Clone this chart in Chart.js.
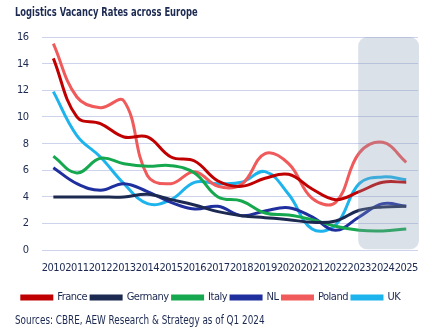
<!DOCTYPE html>
<html lang='en'>
<head>
  <meta charset='UTF-8'>
  <title>Logistics Vacancy Rates across Europe</title>
  <script src="https://cdn.jsdelivr.net/npm/chart.js@4.4.1/dist/chart.umd.min.js"></script>
  <style>
    html, body {
      margin: 0;
      padding: 0;
      background: #fff;
    }

    #wrap {
      position: relative;
      width: 430px;
      height: 332px;
      font-family: 'DejaVu Sans Condensed', 'DejaVu Sans', sans-serif;
      color: #1c2951;
    }

    #chart {
      position: absolute;
      left: 0;
      top: 0;
      display: block;
      width: 430px;
      height: 332px;
    }

    .caption {
      position: absolute;
      left: 15px;
      white-space: nowrap;
      line-height: 1;
      transform-origin: left center;
    }

    #title {
      top: 7px;
      font-size: 11.5px;
      font-weight: bold;
      transform: scaleX(0.81);
    }

    #source {
      top: 314px;
      font-size: 12px;
      transform: scaleX(0.82);
    }
  </style>
</head>
<body>
<div id="wrap">
  <canvas id="chart" width="430" height="332"></canvas>
  <div class="caption" id="title">Logistics Vacancy Rates across Europe</div>
  <div class="caption" id="source">Sources: CBRE, AEW Research &amp; Strategy as of Q1 2024</div>
</div>
<script>
  const years = ['2010', '2011', '2012', '2013', '2014', '2015', '2016', '2017',
    '2018', '2019', '2020', '2021', '2022', '2023', '2024', '2025'];
  const france = [14.4, 10.0, 9.5, 8.5, 8.5, 7.0, 6.7, 5.2, 4.8, 5.4, 5.7, 4.6, 3.8, 4.4, 5.1, 5.1];
  const germany = [4.0, 4.0, 4.0, 4.0, 4.2, 3.8, 3.4, 2.9, 2.6, 2.45, 2.3, 2.1, 2.2, 3.0, 3.25, 3.3];
  const italy = [7.05, 5.8, 6.9, 6.5, 6.3, 6.35, 5.8, 4.0, 3.7, 2.8, 2.65, 2.3, 1.8, 1.5, 1.45, 1.6];
  const nl = [6.2, 5.0, 4.5, 5.0, 4.4, 3.6, 3.1, 3.3, 2.6, 2.95, 3.2, 2.5, 1.5, 2.5, 3.5, 3.3];
  const poland = [15.5, 11.5, 10.7, 11.2, 5.6, 5.0, 5.9, 4.8, 4.95, 7.25, 6.5, 3.9, 3.6, 7.3, 8.1, 6.6];
  const uk = [11.9, 8.6, 7.0, 5.0, 3.5, 3.8, 5.1, 5.0, 5.1, 5.9, 4.2, 1.6, 1.9, 5.0, 5.5, 5.3];
  const forecastFrom = '2023';

  const navy = '#1c2951';

  const series = [
    ['France', france, '#c00000'],
    ['Germany', germany, '#1c2951'],
    ['Italy', italy, '#16a84e'],
    ['NL', nl, '#1f2f9e'],
    ['Poland', poland, '#f05a5a'],
    ['UK', uk, '#1db3ec']
  ];

  // tighter letters for ticks and legend (narrow face is not available)
  const tightText = {
    id: 'tightText',
    beforeUpdate(chart) {
      chart.ctx.letterSpacing = '-0.5px';
    },
    beforeDraw(chart) {
      chart.ctx.letterSpacing = '-0.5px';
    }
  };

  // grey rounded box over the forecast years, laid on top so lines show faded
  const forecastBox = {
    id: 'forecastBox',
    afterDatasetsDraw(chart) {
      const {ctx, chartArea, scales} = chart;
      const x0 = scales.x.getPixelForValue(years.indexOf(forecastFrom)) - 1;
      const x1 = chartArea.right + 1;
      const y0 = chartArea.top;
      const y1 = chartArea.bottom - 1;
      ctx.save();
      ctx.fillStyle = 'rgba(135, 155, 180, 0.3)';
      ctx.beginPath();
      ctx.roundRect(x0, y0, x1 - x0, y1 - y0, 9);
      ctx.fill();
      ctx.restore();
    }
  };

  Chart.defaults.font.family = "'DejaVu Sans Condensed', 'DejaVu Sans', sans-serif";
  Chart.defaults.color = navy;

  new Chart(document.getElementById('chart'), {
    type: 'line',
    data: {
      labels: years,
      datasets: series.map(([label, data, color]) => ({
        label,
        data,
        borderColor: color,
        backgroundColor: color,
        borderWidth: 3,
        pointRadius: 0,
        tension: 0.4,
        fill: false
      }))
    },
    options: {
      responsive: false,
      animation: false,
      devicePixelRatio: 1,
      layout: {
        padding: {left: 4, right: 12, top: 37, bottom: 19}
      },
      scales: {
        x: {
          offset: true,
          grid: {display: false},
          border: {display: false},
          ticks: {
            autoSkip: false,
            maxRotation: 0,
            padding: 3.5,
            color: navy,
            font: {size: 11}
          },
          // extra room between the year labels and the legend
          afterFit(scale) {
            scale.height += 9.5;
          }
        },
        y: {
          min: 0,
          max: 16,
          grid: {color: '#cdd3ec', lineWidth: 1, drawTicks: false},
          border: {display: false},
          ticks: {
            stepSize: 2,
            padding: 13,
            color: navy,
            font: {size: 11}
          }
        }
      },
      plugins: {
        legend: {
          position: 'bottom',
          labels: {
            boxWidth: 30,
            boxHeight: 3,
            padding: 4,
            color: navy,
            font: {size: 11}
          }
        },
        tooltip: {enabled: false}
      }
    },
    plugins: [tightText, forecastBox]
  });
</script>
</body>
</html>
